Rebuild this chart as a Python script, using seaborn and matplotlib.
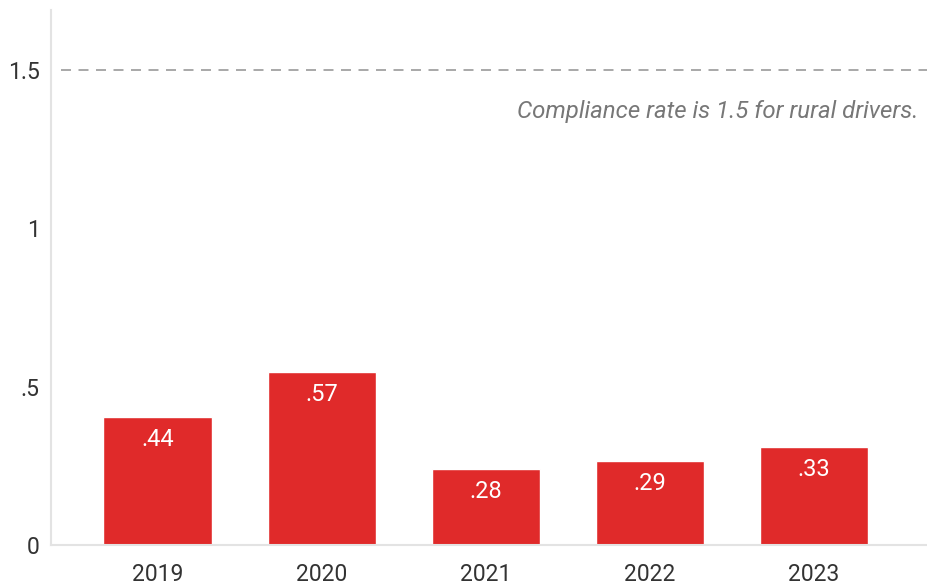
import pandas as pd
import matplotlib.pyplot as plt
import seaborn as sns

years = ['2019', '2020', '2021', '2022', '2023']
rates = [0.405, 0.547, 0.240, 0.266, 0.310]
rate_labels = ['.44', '.57', '.28', '.29', '.33']
rural_rate = 1.5
y_ticks = [0, 0.5, 1, 1.5]
y_tick_labels = ['0', '.5', '1', '1.5']

df = pd.DataFrame({'year': years, 'rate': rates})

sns.set_style('white')
plt.rcParams['font.family'] = ['Roboto', 'DejaVu Sans']

fig = plt.figure(figsize=(9.27, 5.85), dpi=100)
ax = fig.add_axes([0.055, 0.068, 0.945, 0.915])

sns.barplot(data=df, x='year', y='rate', color='#e02a2a', width=0.66,
            saturation=1, ax=ax)

for i, lab in enumerate(rate_labels):
    ax.annotate(lab, (i, rates[i]), xytext=(0, -16), textcoords='offset points',
                ha='center', va='center', color='white', fontsize=17)

ax.axhline(rural_rate, xmin=0.012, xmax=1, color='#9a9a9a', lw=1.2,
           dashes=(6, 4.5))
ax.text(4.64, 1.37, 'Compliance rate is 1.5 for rural drivers.', ha='right',
        va='center', style='italic', color='#777777', fontsize=17.3)

ax.set_xlim(-0.65, 4.69)
ax.set_ylim(0, 1.69)
ax.set_yticks(y_ticks)
ax.set_yticklabels(y_tick_labels)
ax.set_xlabel('')
ax.set_ylabel('')
ax.tick_params(axis='both', length=0, labelsize=16.5, colors='#333333')
ax.tick_params(axis='x', pad=13)
ax.tick_params(axis='y', pad=8)
for t in ax.get_yticklabels():
    t.set_va('center_baseline')

for side in ['top', 'right']:
    ax.spines[side].set_visible(False)
for side in ['left', 'bottom']:
    ax.spines[side].set_color('#e3e3e3')
    ax.spines[side].set_linewidth(1.5)

plt.savefig('out.png', dpi=100)
